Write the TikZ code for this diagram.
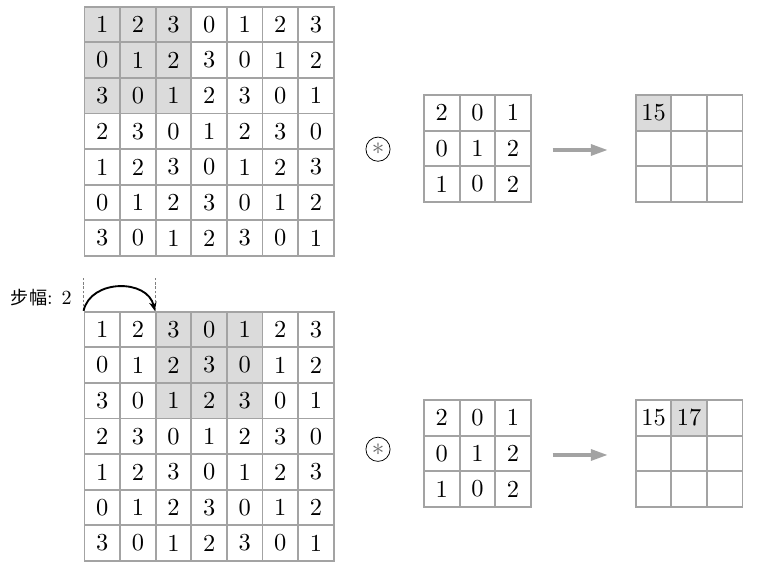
\documentclass[tikz,border=0pt]{standalone}
\usepackage{fontspec}
\newfontfamily\cjk{Noto Sans CJK SC}
\usepackage{amsmath}
\usetikzlibrary{arrows,arrows.meta,positioning}
\definecolor{gridgray}{gray}{0.64}
\definecolor{cellgray}{gray}{0.86}
\definecolor{flowgray}{gray}{0.64}
\definecolor{stargray}{gray}{0.4}
\newcommand{\bignum}[1]{\scalebox{1.95}{#1}}
\tikzset{
    %Define style for grid cells
    cell/.style={
           rectangle,
           draw=gridgray, line width=1.5pt,
           fill=white,
           minimum size=1cm,
           inner sep=0pt},
    hot0/.style={},
    hot1/.style={fill=cellgray},
    % Define operator circle
    conv/.style={circle,draw=black,line width=0.6pt,minimum size=0.68cm,inner sep=0pt},
    % Define arrow styles
    flow/.style={
           -{Triangle[length=0.48cm,width=0.3cm]},
           draw=flowgray, line width=3pt},
    hop/.style={
           -{Stealth[length=7pt,width=6pt]},
           line width=1.5pt},
    guide/.style={draw=gray,thin,dash pattern=on 2pt off 1.5pt}
}

\begin{document}
\begin{tikzpicture}[node distance=0.6cm]
  \useasboundingbox (0,0) rectangle (21.376,-16.124);
  % input maps (top: a, bottom: b)
  \foreach \g/\top/\cmin in {a/-0.188/1, b/-8.756/3} {
    \foreach \line [count=\r] in {{1,2,3,0,1,2,3},{0,1,2,3,0,1,2},{3,0,1,2,3,0,1},
        {2,3,0,1,2,3,0},{1,2,3,0,1,2,3},{0,1,2,3,0,1,2},{3,0,1,2,3,0,1}} {
      \foreach \v [count=\c] in \line {
        \pgfmathtruncatemacro\hot{(\r<=3)&&(\c>=\cmin)&&(\c<=\cmin+2)}
        \node[cell, hot\hot] (\g-\r-\c) at (2.374+\c-0.5,\top-\r+0.5) {\bignum{\v}};
      }
    }
  }
  % kernels
  \foreach \g/\top in {a/-2.669, b/-11.236} {
    \foreach \line [count=\r] in {{2,0,1},{0,1,2},{1,0,2}} {
      \foreach \v [count=\c] in \line
        \node[cell] (k\g-\r-\c) at (11.91+\c-0.5,\top-\r+0.5) {\bignum{\v}};
    }
  }
  % outputs
  \foreach \g/\top/\hc in {a/-2.669/1, b/-11.236/2} {
    \foreach \r in {1,2,3} {
      \foreach \c in {1,2,3} {
        \pgfmathtruncatemacro\hot{(\r==1)&&(\c==\hc)}
        \node[cell, hot\hot] (o\g-\r-\c) at (17.857+\c-0.5,\top-\r+0.5) {};
      }
    }
  }
  \node at (oa-1-1) {\bignum{15}};
  \node at (ob-1-1) {\bignum{15}};
  \node at (ob-1-2) {\bignum{17}};
  % operators and arrows
  \node[conv] (sa) at (10.618,-4.19) {\textcolor{stargray}{\scalebox{2}{$\ast$}}};
  \node[conv] (sb) at (10.618,-12.62) {\textcolor{stargray}{\scalebox{2}{$\ast$}}};
  \coordinate (pa1) at (15.525,-4.213);
  \coordinate (pa2) at (17.079,-4.213);
  \coordinate (pb1) at (15.525,-12.78);
  \coordinate (pb2) at (17.079,-12.78);
  \draw[flow] (pa1) -- (pa2);
  \draw[flow] (pb1) -- (pb2);
  % stride
  \coordinate[above=0.95cm of b-1-1.north west] (d1);
  \coordinate[above=0.95cm of b-1-3.north west] (d2);
  \draw[guide] (b-1-1.north west) -- (d1);
  \draw[guide] (b-1-3.north west) -- (d2);
  \draw[hop] (b-1-1.north west) .. controls +(0.2,0.9) and +(-0.2,0.9) .. (b-1-3.north west);
  \node[anchor=east,inner sep=0pt] (stride) at (2.02,-8.37)
    {{\cjk\fontsize{14.5}{16}\selectfont 步幅}\scalebox{1.6}{: 2}};
\end{tikzpicture}
\end{document}
